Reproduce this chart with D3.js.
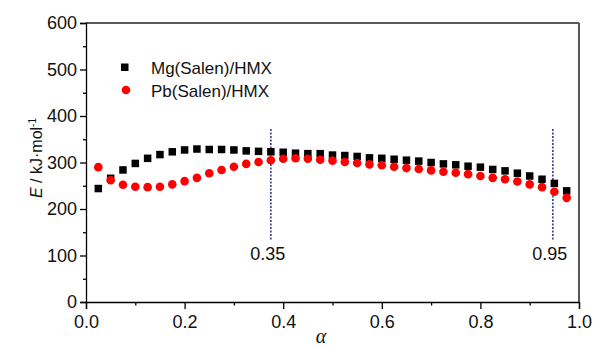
<!DOCTYPE html>
<html>
<head>
<meta charset="utf-8">
<script src="https://cdn.jsdelivr.net/npm/d3@7"></script>
<style>
  body { margin: 0; background: #fff; }
  svg { display: block; font-family: "Liberation Sans", Arial, sans-serif; }
</style>
</head>
<body>
<svg width="595" height="346"></svg>
<script>
// alpha values (conversion degree)
const alpha = [0.025, 0.05, 0.075, 0.1, 0.125, 0.15, 0.175, 0.2, 0.225, 0.25,
  0.275, 0.3, 0.325, 0.35, 0.375, 0.4, 0.425, 0.45, 0.475, 0.5,
  0.525, 0.55, 0.575, 0.6, 0.625, 0.65, 0.675, 0.7, 0.725, 0.75,
  0.775, 0.8, 0.825, 0.85, 0.875, 0.9, 0.925, 0.95, 0.975];

// Mg(Salen)/HMX, E in kJ/mol
const mgE = [244, 266, 284, 298, 309, 317, 323, 327, 329, 328,
  328, 327, 325, 324, 323, 322, 320, 319, 319, 316,
  315, 313, 310, 309, 307, 305, 303, 300, 297, 295,
  292, 290, 285, 282, 277, 271, 264, 255, 239];

// Pb(Salen)/HMX
const pbE = [290, 262, 252, 248, 247, 248, 253, 260, 267, 277,
  284, 291, 297, 301, 305, 308, 309, 308, 306, 304,
  301, 299, 296, 294, 291, 288, 286, 283, 280, 278,
  275, 271, 267, 264, 259, 253, 247, 237, 224];

const seriesNames = ["Mg(Salen)/HMX", "Pb(Salen)/HMX"];
const markerAlpha = [0.375, 0.947];
const markerLabels = ["0.35", "0.95"];
const yTicks = [0, 100, 200, 300, 400, 500, 600];
const xTicks = [0.0, 0.2, 0.4, 0.6, 0.8, 1.0];

const svg = d3.select("svg");
const x = d3.scaleLinear().domain([0, 1]).range([86, 579]);
const y = d3.scaleLinear().domain([0, 600]).range([302, 23]);

// frame (top + right)
svg.append("line").attr("x1", 86).attr("x2", 579).attr("y1", 23).attr("y2", 23)
  .attr("stroke", "#222").attr("stroke-width", 1.3);
svg.append("line").attr("x1", 579).attr("x2", 579).attr("y1", 23).attr("y2", 302)
  .attr("stroke", "#444").attr("stroke-width", 1.8);

// y axis
svg.append("g").attr("transform", "translate(86,0)")
  .call(d3.axisLeft(y).tickValues(yTicks).tickSize(6).tickPadding(3).tickFormat(d3.format("d")));
svg.append("g").attr("transform", "translate(86,0)")
  .call(d3.axisLeft(y).tickValues(d3.range(50, 600, 100)).tickSize(3).tickFormat(""))
  .select(".domain").remove();

// x axis
svg.append("g").attr("transform", "translate(0,302)")
  .call(d3.axisBottom(x).tickValues(xTicks).tickSize(7).tickPadding(6).tickFormat(d3.format(".1f")));
svg.append("g").attr("transform", "translate(0,302)")
  .call(d3.axisBottom(x).tickValues(d3.range(0.1, 1, 0.2)).tickSize(3.5).tickFormat(""))
  .select(".domain").remove();

svg.selectAll(".tick line, .domain").attr("stroke", "#000").attr("stroke-width", 1.3);
svg.selectAll(".tick text").attr("font-size", 18).attr("fill", "#111")
  .attr("font-family", "Liberation Sans, Arial, sans-serif");

// axis titles
const yt = svg.append("text")
  .attr("transform", "translate(42,158) rotate(-90)")
  .attr("text-anchor", "middle").attr("font-size", 16).attr("fill", "#111");
yt.append("tspan").attr("font-style", "italic").text("E");
yt.append("tspan").text(" / kJ·mol");
yt.append("tspan").attr("font-size", 10).attr("dy", -6).text("-1");

svg.append("text").attr("x", 321).attr("y", 343)
  .attr("text-anchor", "middle").attr("font-size", 20)
  .attr("font-family", "Liberation Serif, serif").attr("font-style", "italic")
  .attr("fill", "#111").text("α");

// dashed markers
svg.selectAll(".marker").data(markerAlpha).enter().append("line")
  .attr("class", "marker")
  .attr("x1", d => x(d)).attr("x2", d => x(d))
  .attr("y1", 129).attr("y2", 241)
  .attr("stroke", "#1c1c80").attr("stroke-width", 1.4)
  .attr("stroke-dasharray", "2,1.5");
svg.selectAll(".marker-label").data(markerLabels).enter().append("text")
  .attr("class", "marker-label")
  .attr("x", (d, i) => x(markerAlpha[i]) - 3)
  .attr("y", 260)
  .attr("text-anchor", "middle").attr("font-size", 18).attr("fill", "#111")
  .text(d => d);

// Mg series (squares)
const sq = 7.5;
svg.selectAll(".mg").data(alpha).enter().append("rect")
  .attr("class", "mg")
  .attr("x", d => x(d) - sq / 2)
  .attr("y", (d, i) => y(mgE[i]) - sq / 2)
  .attr("width", sq).attr("height", sq)
  .attr("fill", "#000");

// Pb series (circles)
svg.selectAll(".pb").data(alpha).enter().append("circle")
  .attr("class", "pb")
  .attr("cx", d => x(d))
  .attr("cy", (d, i) => y(pbE[i]))
  .attr("r", 4.3)
  .attr("fill", "#f00");

// legend
const legend = svg.append("g");
legend.append("rect").attr("x", 121).attr("y", 63.5).attr("width", sq).attr("height", sq).attr("fill", "#000");
legend.append("circle").attr("cx", 126).attr("cy", 90).attr("r", 4.3).attr("fill", "#f00");
legend.selectAll("text").data(seriesNames).enter().append("text")
  .attr("x", 151).attr("y", (d, i) => 74 + i * 23)
  .attr("font-size", 17).attr("fill", "#111")
  .text(d => d);
</script>
</body>
</html>
